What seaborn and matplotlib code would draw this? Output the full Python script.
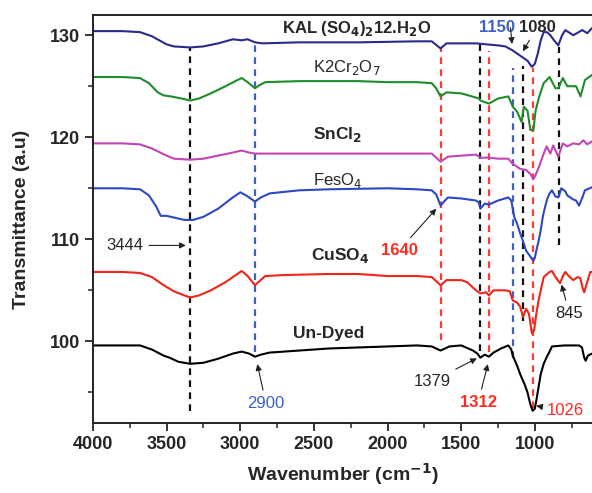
import numpy as np
import pandas as pd
import matplotlib
matplotlib.use("Agg")
import matplotlib.pyplot as plt
import seaborn as sns

# wavenumber (cm-1) / transmittance pairs
undyed_wn = [4000, 3800, 3680, 3600, 3520, 3480, 3420, 3340, 3250, 3150, 3050, 2990, 2940, 2900, 2860,
             2800, 2600, 2400, 2200, 2000, 1800, 1700, 1640, 1580, 1500, 1420, 1390, 1370, 1340, 1312,
             1280, 1230, 1180, 1160, 1150, 1120, 1100, 1070, 1050, 1030, 1015, 1000, 990, 975, 960,
             940, 918, 900, 884, 800, 700, 680, 665, 655, 640, 612]
undyed_t = [99.6, 99.6, 99.6, 99.2, 98.6, 98.4, 98.0, 97.8, 97.9, 98.3, 98.8, 99.0, 98.8, 98.5, 98.7,
            98.9, 99.1, 99.3, 99.4, 99.5, 99.6, 99.5, 99.1, 99.5, 99.6, 99.1, 98.8, 98.4, 98.7, 98.5,
            98.9, 99.3, 99.6, 99.2, 98.6, 97.6, 96.8, 95.8, 95.0, 93.8, 93.2, 93.4, 94.2, 95.5, 96.8,
            97.8, 98.5, 99.0, 99.5, 99.6, 99.6, 99.4, 98.4, 98.1, 98.6, 98.8]

cuso4_wn = [4000, 3800, 3680, 3600, 3520, 3450, 3380, 3340, 3280, 3200, 3100, 3030, 2990, 2950, 2900,
            2870, 2830, 2700, 2400, 2200, 2000, 1800, 1700, 1640, 1600, 1500, 1460, 1400, 1370, 1330,
            1312, 1280, 1200, 1170, 1150, 1120, 1100, 1080, 1060, 1040, 1020, 1005, 990, 975, 960,
            940, 900, 884, 860, 829, 810, 793, 770, 739, 710, 692, 675, 665, 645, 624, 612]
cuso4_t = [106.8, 106.8, 106.7, 106.3, 105.5, 104.9, 104.5, 104.3, 104.5, 105.0, 105.8, 106.5, 106.9, 106.4, 105.5,
           105.9, 106.4, 106.5, 106.6, 106.6, 106.4, 106.4, 106.3, 105.5, 106.0, 106.0, 105.8, 105.0, 104.7, 104.8,
           104.5, 105.0, 105.0, 104.9, 104.0, 103.8, 103.4, 102.4, 103.2, 102.7, 100.8, 101.1, 102.7, 104.0, 105.0,
           106.3, 106.8, 106.9, 106.3, 105.7, 106.4, 106.8, 106.4, 106.0, 106.3, 106.2, 105.2, 104.8, 105.8, 106.8, 106.8]

feso4_wn = [4000, 3800, 3680, 3620, 3570, 3540, 3500, 3440, 3380, 3320, 3250, 3150, 3060, 3000, 2960,
            2900, 2860, 2800, 2600, 2400, 2000, 1800, 1700, 1670, 1640, 1610, 1590, 1500, 1400, 1380,
            1370, 1340, 1312, 1250, 1180, 1160, 1140, 1120, 1100, 1080, 1060, 1030, 1010, 1000, 990,
            975, 960, 945, 930, 915, 900, 884, 860, 841, 820, 793, 780, 739, 720, 700, 680, 660, 612]
feso4_t = [115.0, 115.0, 114.9, 114.3, 113.2, 112.3, 112.3, 112.1, 111.9, 111.9, 112.2, 113.0, 114.0, 114.6, 114.3,
           113.7, 114.1, 114.5, 114.8, 114.9, 115.0, 114.9, 114.8, 114.4, 113.3, 113.8, 114.1, 114.0, 113.8, 113.6,
           113.0, 113.5, 113.4, 113.8, 114.1, 113.8, 112.2, 111.5, 110.6, 109.8, 108.9, 108.3, 107.9, 108.2, 108.9,
           109.8, 110.9, 112.3, 113.2, 114.0, 114.5, 114.8, 114.2, 114.1, 115.0, 114.7, 114.3, 113.9, 113.8, 113.3, 114.0, 114.8, 115.1]

sncl2_wn = [4000, 3800, 3680, 3600, 3500, 3450, 3340, 3250, 3150, 3050, 2990, 2940, 2900, 2850, 2600,
            2000, 1700, 1640, 1590, 1400, 1370, 1312, 1250, 1180, 1150, 1100, 1060, 1030, 1010, 995,
            975, 960, 940, 920, 895, 875, 841, 810, 780, 740, 700, 670, 645, 612]
sncl2_t = [119.4, 119.4, 119.3, 118.9, 118.2, 117.9, 117.8, 117.9, 118.2, 118.5, 118.7, 118.5, 118.4, 118.4, 118.4,
           118.4, 118.4, 117.6, 118.1, 118.3, 118.0, 118.0, 117.9, 117.9, 117.4, 116.9, 116.8, 116.4, 115.9, 116.3,
           117.0, 117.6, 118.4, 119.1, 118.4, 119.2, 118.1, 119.4, 119.1, 119.4, 119.3, 119.7, 119.3, 119.6]

k2cr2o7_wn = [4000, 3800, 3680, 3620, 3560, 3520, 3470, 3400, 3340, 3280, 3200, 3100, 3020, 2990, 2950,
              2900, 2870, 2830, 2600, 2200, 2000, 1800, 1700, 1670, 1640, 1600, 1500, 1450, 1380, 1370,
              1312, 1250, 1180, 1150, 1120, 1090, 1075, 1050, 1030, 1010, 995, 970, 940, 900, 860,
              841, 810, 780, 720, 690, 660, 612]
k2cr2o7_t = [125.9, 125.9, 125.8, 125.3, 124.4, 124.1, 124.0, 123.8, 123.6, 123.8, 124.3, 125.0, 125.6, 125.8, 125.4,
             124.8, 125.1, 125.4, 125.5, 125.5, 125.4, 125.4, 125.3, 124.8, 124.0, 124.4, 124.3, 124.1, 123.8, 123.6,
             123.3, 123.8, 124.0, 123.0, 122.5, 121.5, 123.0, 122.6, 120.7, 120.7, 122.6, 124.0, 125.3, 125.9, 124.8,
             124.8, 125.8, 125.0, 125.0, 124.0, 125.6, 126.1]

kal_wn = [4000, 3800, 3680, 3600, 3500, 3450, 3340, 3250, 3150, 3050, 2990, 2950, 2900, 2850, 2600,
          2200, 1800, 1700, 1640, 1600, 1400, 1250, 1200, 1150, 1100, 1050, 1020, 1000, 980, 960,
          940, 918, 895, 870, 841, 815, 793, 739, 678, 644, 612]
kal_t = [130.4, 130.4, 130.3, 129.9, 129.1, 128.9, 128.8, 128.9, 129.2, 129.6, 129.5, 129.6, 129.3, 129.2, 129.3,
         129.3, 129.4, 129.4, 128.7, 129.2, 129.2, 129.0, 128.9, 128.5, 128.0, 127.5, 126.9, 127.2, 128.2, 129.5,
         130.3, 130.3, 130.0, 129.5, 129.0, 130.0, 130.5, 130.0, 130.5, 130.2, 130.7]

# marker lines: position, top, bottom, colour
mark_wn = [3340, 2900, 1640, 1370, 1312, 1150, 1080, 1010, 835]
mark_top = [128.8, 129.5, 128.7, 129.2, 128.5, 126.8, 127.0, 126.8, 128.8]
mark_bot = [93.2, 99.0, 100.1, 99.1, 99.0, 98.4, 102.0, 93.5, 109.4]
mark_col = ["#111111", "#3f5fc8", "#ff3b2f", "#111111", "#ff3b2f", "#3f5fc8", "#111111", "#ff3b2f", "#111111"]

series = [
    ("Un-Dyed", undyed_wn, undyed_t, "#000000"),
    ("CuSO4", cuso4_wn, cuso4_t, "#f02418"),
    ("FeSO4", feso4_wn, feso4_t, "#2c48c4"),
    ("SnCl2", sncl2_wn, sncl2_t, "#c145b4"),
    ("K2Cr2O7", k2cr2o7_wn, k2cr2o7_t, "#1f8c2c"),
    ("KAL", kal_wn, kal_t, "#2a2a8c"),
]

sns.set_style("ticks")
plt.rcParams["font.family"] = ["Liberation Sans", "DejaVu Sans"]

fig = plt.figure(figsize=(5.92, 4.93), dpi=100)
ax = fig.add_axes([0.157, 0.142, 0.843, 0.828])

for wn, top, bot, col in zip(mark_wn, mark_top, mark_bot, mark_col):
    ax.vlines(wn, bot, top, colors=col, linestyles=(0, (3.0, 2.4)), lw=1.6, zorder=1)

for name, wn, t, col in series:
    sns.lineplot(x=wn, y=t, ax=ax, color=col, lw=1.5, sort=False, zorder=2)

ax.set_xlim(4000, 612)
ax.set_ylim(92, 132)
ax.set_xticks([4000, 3500, 3000, 2500, 2000, 1500, 1000])
ax.set_xticks(np.arange(3750, 600, -500), minor=True)
ax.set_yticks([100, 110, 120, 130])
ax.set_yticks([95, 105, 115, 125], minor=True)
ax.tick_params(axis="both", which="major", direction="out", length=6, width=1.3, labelsize=13)
ax.tick_params(axis="both", which="minor", direction="out", length=3.5, width=1.1)
for lab in ax.get_xticklabels() + ax.get_yticklabels():
    lab.set_fontweight("bold")
for s in ["left", "bottom", "top"]:
    ax.spines[s].set_linewidth(1.4)
    ax.spines[s].set_color("#222222")
ax.spines["right"].set_visible(False)

ax.set_xlabel("Wavenumber (cm$^{\\mathbf{-1}}$)", fontsize=14, fontweight="bold", labelpad=6)
ax.set_ylabel("Transmittance (a.u)", fontsize=14, fontweight="bold", labelpad=14)

# sample labels
ax.text(2716, 130.7, "KAL (SO$_\\mathbf{4}$)$_\\mathbf{2}$12.H$_\\mathbf{2}$O", fontsize=12, fontweight="bold", va="center")
ax.text(2505, 126.8, "K2Cr$_2$O$_7$", fontsize=12, va="center")
ax.text(2505, 120.3, "SnCl$_\\mathbf{2}$", fontsize=12.5, fontweight="bold", va="center")
ax.text(2505, 115.8, "FesO$_4$", fontsize=12, va="center")
ax.text(2520, 108.4, "CuSO$_\\mathbf{4}$", fontsize=12.5, fontweight="bold", va="center")
ax.text(2641, 100.8, "Un-Dyed", fontsize=12.5, fontweight="bold", va="center")

arrow = dict(arrowstyle="-|>", color="#222222", lw=0.8, mutation_scale=9, shrinkA=2, shrinkB=1)

ax.annotate("3444", xy=(3360, 109.4), xytext=(3660, 109.4), fontsize=12, ha="right", va="center",
            arrowprops=arrow)
ax.annotate("2900", xy=(2886, 97.9), xytext=(2825, 93.9), fontsize=12, color="#3f5fc8", ha="center",
            va="center", arrowprops=arrow)
ax.annotate("1640", xy=(1663, 113.1), xytext=(1921, 108.9), fontsize=12, fontweight="bold", color="#ff2a1f",
            ha="center", va="center", arrowprops=arrow)
ax.text(1255, 130.8, "1150", fontsize=12, fontweight="bold", color="#3f5fc8", ha="center", va="center")
ax.annotate("", xy=(1154, 129.0), xytext=(1167, 131.0), arrowprops=arrow)
ax.annotate("1080", xy=(1086, 128.3), xytext=(984, 130.8), fontsize=12, fontweight="bold", ha="center",
            va="center", arrowprops=arrow)
ax.annotate("1379", xy=(1385, 98.4), xytext=(1697, 96.1), fontsize=12, ha="center", va="center",
            arrowprops=arrow)
ax.annotate("1312", xy=(1317, 97.9), xytext=(1385, 94.0), fontsize=12, fontweight="bold", color="#ff2a1f",
            ha="center", va="center", arrowprops=arrow)
ax.annotate("1026", xy=(1000, 93.7), xytext=(793, 93.2), fontsize=12, color="#ff2a1f", ha="center",
            va="center", arrowprops=arrow)
ax.annotate("845", xy=(821, 105.7), xytext=(766, 102.7), fontsize=12, ha="center", va="center",
            arrowprops=arrow)

fig.savefig("out.png", dpi=100)
